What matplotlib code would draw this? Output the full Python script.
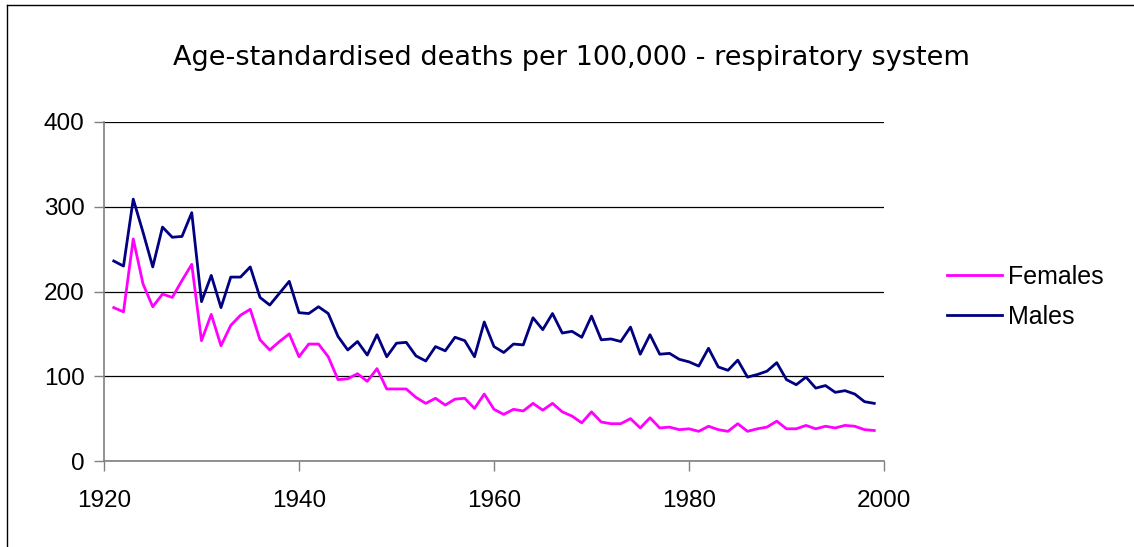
import matplotlib
matplotlib.use('Agg')
import matplotlib.pyplot as plt
from matplotlib.lines import Line2D

plt.rcParams['font.family'] = ['Liberation Sans', 'DejaVu Sans']

# data, 1921-1999
years = list(range(1921, 2000))
females = [181, 176, 262, 209, 182, 197, 193, 213, 232, 142,
           173, 136, 160, 172, 179, 143, 131, 141, 150, 123,
           138, 138, 123, 96, 97, 103, 94, 109, 85, 85,
           85, 75, 68, 74, 66, 73, 74, 62, 79, 61,
           55, 61, 59, 68, 60, 68, 58, 53, 45, 58,
           46, 44, 44, 50, 39, 51, 39, 40, 37, 38,
           35, 41, 37, 35, 44, 35, 38, 40, 47, 38,
           38, 42, 38, 41, 39, 42, 41, 37, 36]
males = [236, 230, 309, 270, 229, 276, 264, 265, 293, 188,
         219, 181, 217, 217, 229, 193, 184, 198, 212, 175,
         174, 182, 174, 147, 131, 141, 125, 149, 123, 139,
         140, 124, 118, 135, 130, 146, 142, 123, 164, 135,
         128, 138, 137, 169, 155, 174, 151, 153, 146, 171,
         143, 144, 141, 158, 126, 149, 126, 127, 120, 117,
         112, 133, 111, 107, 119, 99, 102, 106, 116, 96,
         90, 99, 86, 89, 81, 83, 79, 70, 68]
series_names = ['Females', 'Males']
series_colors = ['#FF00FF', '#000080']
x_ticks = [1920, 1940, 1960, 1980, 2000]
y_ticks = [0, 100, 200, 300, 400]

W, H = 1134, 547
fig = plt.figure(figsize=(W / 100, H / 100), dpi=100)
ax = fig.add_axes([104 / W, 1 - 461 / H, (884 - 104) / W, (461 - 122) / H])

ax.plot(years, females, color=series_colors[0], lw=2.0, label=series_names[0])
ax.plot(years, males, color=series_colors[1], lw=2.0, label=series_names[1])

ax.set_xlim(1920, 2000)
ax.set_ylim(0, 400)
ax.set_xticks(x_ticks)
ax.set_yticks(y_ticks)
ax.grid(axis='y', color='black', lw=0.9)
ax.set_axisbelow(True)
for s in ['top', 'right']:
    ax.spines[s].set_visible(False)
for s in ['left', 'bottom']:
    ax.spines[s].set_color('#808080')
    ax.spines[s].set_linewidth(1.2)
ax.tick_params(axis='both', direction='out', length=7, width=1, color='#808080',
               labelsize=17.5)
ax.tick_params(axis='y', pad=7)
ax.tick_params(axis='x', pad=14)

fig.text(571 / W, 1 - 58 / H, 'Age-standardised deaths per 100,000 - respiratory system',
         ha='center', va='center', fontsize=19.5, family='DejaVu Sans')

handles = [Line2D([0], [0], color=c, lw=2.0) for c in series_colors]
fig.legend(handles, series_names, loc='center left', bbox_to_anchor=(947 / W, 1 - 297 / H),
           frameon=False, fontsize=18, handlelength=2.2, handletextpad=0.25,
           labelspacing=0.65, borderaxespad=0, borderpad=0)

# outer chart border (left and top visible)
fig.add_artist(Line2D([7 / W, 7 / W], [0, 1 - 5 / H], color='black', lw=1))
fig.add_artist(Line2D([7 / W, 1], [1 - 5 / H, 1 - 5 / H], color='black', lw=1))

fig.savefig('out.png', dpi=100)
